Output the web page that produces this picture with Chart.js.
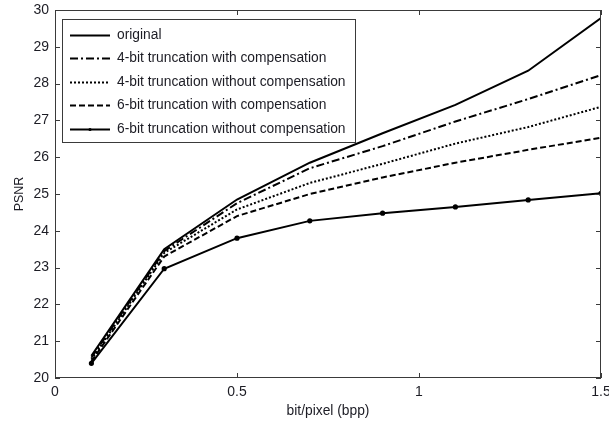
<!DOCTYPE html>
<html>
<head>
<meta charset="utf-8">
<script src="https://cdn.jsdelivr.net/npm/chart.js@4.4.0/dist/chart.umd.min.js"></script>
<style>
  html, body { margin: 0; padding: 0; background: #fff; }
  canvas { display: block; }
</style>
</head>
<body>
<canvas id="psnrChart" width="609" height="427"></canvas>
<script>
// bit rate samples (bpp) and PSNR (dB) per method
const bpp = [0.1, 0.3, 0.5, 0.7, 0.9, 1.1, 1.3, 1.5];
const original     = [20.60, 23.50, 24.85, 25.85, 26.65, 27.42, 28.35, 29.78];
const trunc4Comp   = [20.55, 23.45, 24.75, 25.70, 26.30, 26.97, 27.58, 28.23];
const trunc4NoComp = [20.50, 23.40, 24.58, 25.30, 25.82, 26.37, 26.82, 27.37];
const trunc6Comp   = [20.45, 23.30, 24.40, 25.00, 25.45, 25.85, 26.20, 26.53];
const trunc6NoComp = [20.40, 22.97, 23.80, 24.27, 24.48, 24.65, 24.84, 25.02];
const seriesNames = [
  'original',
  '4-bit truncation with compensation',
  '4-bit truncation without compensation',
  '6-bit truncation with compensation',
  '6-bit truncation without compensation'
];
const xTicks = [0, 0.5, 1, 1.5];

const FONT = '"Liberation Sans", Arial, sans-serif';
const TEXT = '#1c1c24';

function pts(ys) { return bpp.map((x, i) => ({ x: x, y: ys[i] })); }

function series(label, ys, dash, marker) {
  return {
    label: label,
    data: pts(ys),
    borderColor: '#000',
    backgroundColor: '#000',
    borderWidth: 2,
    borderDash: dash,
    pointRadius: marker ? 1.6 : 0,
    pointHoverRadius: 0,
    tension: 0,
    fill: false
  };
}

// box around the axes with inward tick marks on all four sides
const frame = {
  id: 'frame',
  afterDraw(chart) {
    const { ctx, chartArea: a, scales } = chart;
    ctx.save();
    ctx.strokeStyle = '#3a3a3a';
    ctx.lineWidth = 1;
    ctx.strokeRect(a.left + 0.5, a.top + 0.5, a.right - a.left - 1, a.bottom - a.top - 1);
    ctx.beginPath();
    const len = 5;
    scales.x.ticks.forEach(t => {
      const px = Math.round(scales.x.getPixelForValue(t.value)) + 0.5;
      ctx.moveTo(px, a.bottom); ctx.lineTo(px, a.bottom - len);
      ctx.moveTo(px, a.top); ctx.lineTo(px, a.top + len);
    });
    scales.y.ticks.forEach(t => {
      const py = Math.round(scales.y.getPixelForValue(t.value)) + 0.5;
      ctx.moveTo(a.left, py); ctx.lineTo(a.left + len, py);
      ctx.moveTo(a.right, py); ctx.lineTo(a.right - len, py);
    });
    ctx.stroke();
    ctx.restore();
  }
};

// legend box in the upper-left corner of the plot
const boxLegend = {
  id: 'boxLegend',
  afterDatasetsDraw(chart) {
    const { ctx, chartArea: a } = chart;
    const x0 = a.left + 7, y0 = a.top + 9, w = 293, h = 123;
    const rowH = 23.4;
    ctx.save();
    ctx.fillStyle = '#fff';
    ctx.fillRect(x0, y0, w, h);
    ctx.strokeStyle = '#3a3a3a';
    ctx.lineWidth = 1;
    ctx.strokeRect(x0 + 0.5, y0 + 0.5, w, h);
    ctx.font = '13.8px ' + FONT;
    ctx.textBaseline = 'middle';
    chart.data.datasets.forEach((ds, i) => {
      const cy = Math.round(y0 + 16 + i * rowH) + 0.5;
      ctx.strokeStyle = ds.borderColor;
      ctx.lineWidth = ds.borderWidth;
      ctx.setLineDash(ds.borderDash || []);
      ctx.beginPath();
      ctx.moveTo(x0 + 8, cy);
      ctx.lineTo(x0 + 48, cy);
      ctx.stroke();
      ctx.setLineDash([]);
      if (ds.pointRadius > 0) {
        ctx.fillStyle = ds.backgroundColor;
        ctx.beginPath();
        ctx.arc(x0 + 28, cy, ds.pointRadius, 0, Math.PI * 2);
        ctx.fill();
      }
      ctx.fillStyle = TEXT;
      ctx.fillText(ds.label, x0 + 55, cy);
    });
    ctx.restore();
  }
};

const ctx = document.getElementById('psnrChart');

new Chart(ctx, {
  type: 'line',
  data: {
    datasets: [
      series(seriesNames[0], original, []),
      series(seriesNames[1], trunc4Comp, [8, 3, 2, 3]),
      series(seriesNames[2], trunc4NoComp, [2, 2]),
      series(seriesNames[3], trunc6Comp, [6, 3]),
      series(seriesNames[4], trunc6NoComp, [], true)
    ]
  },
  options: {
    responsive: false,
    animation: false,
    layout: { padding: { left: 8, right: 8, top: 10, bottom: 0 } },
    plugins: {
      legend: { display: false },
      tooltip: { enabled: false }
    },
    scales: {
      x: {
        type: 'linear',
        min: 0,
        max: 1.5,
        afterBuildTicks(scale) { scale.ticks = xTicks.map(v => ({ value: v })); },
        afterFit(scale) { scale.height = 49; scale.paddingLeft = 0; scale.paddingRight = 0; },
        grid: { display: false, drawTicks: false },
        border: { display: false },
        ticks: {
          color: TEXT, font: { family: FONT, size: 14 }, padding: 6, maxRotation: 0,
          callback: v => String(v)
        },
        title: { display: true, text: 'bit/pixel (bpp)', color: TEXT, font: { family: FONT, size: 13.8 }, padding: { bottom: 8 } }
      },
      y: {
        min: 20,
        max: 30,
        afterFit(scale) { scale.width = 47; scale.paddingTop = 0; scale.paddingBottom = 0; },
        grid: { display: false, drawTicks: false },
        border: { display: false },
        ticks: { stepSize: 1, color: TEXT, font: { family: FONT, size: 14 }, padding: 6 },
        title: { display: true, text: 'PSNR', color: TEXT, font: { family: FONT, size: 12.5 } }
      }
    }
  },
  plugins: [frame, boxLegend]
});
</script>
</body>
</html>
